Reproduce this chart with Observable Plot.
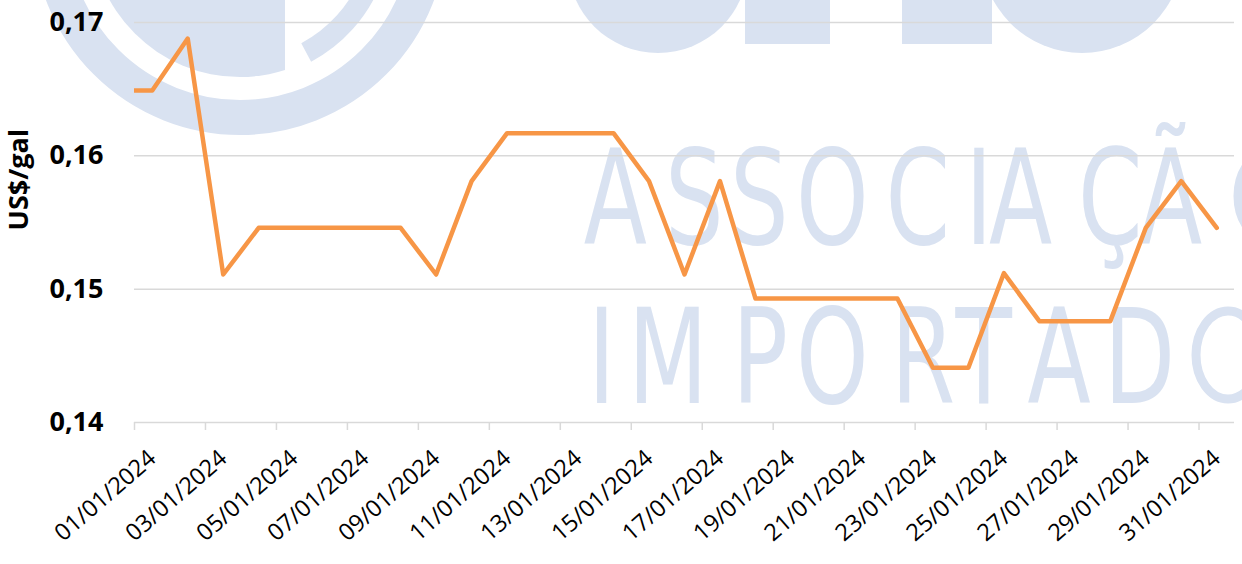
<!DOCTYPE html>
<html>
<head>
<meta charset="utf-8">
<script src="https://cdn.jsdelivr.net/npm/d3@7"></script>
<script src="https://cdn.jsdelivr.net/npm/@observablehq/plot@0.6"></script>
<style>
  html, body { margin: 0; padding: 0; background: #ffffff; }
  #wrap { position: relative; width: 1242px; height: 564px; overflow: hidden; background: #fff; }
  #wm { position: absolute; left: 0; top: 0; }
  #chart { position: absolute; left: 0; top: 0; }
</style>
</head>
<body>
<div id="wrap">
  <!-- decorative background watermark (not data) -->
  <svg id="wm" width="1242" height="564" xmlns="http://www.w3.org/2000/svg">
    <defs>
      <clipPath id="clipDisc"><rect x="0" y="-300" width="285" height="600"></rect></clipPath>
    </defs>
    <g fill="#d9e2f1" stroke="none">
      <circle cx="240" cy="-72" r="189.5" fill="none" stroke="#d9e2f1" stroke-width="35"></circle>
      <circle cx="240" cy="-72" r="149" clip-path="url(#clipDisc)"></circle>
      <path d="M370.7,-19.2 A141,141 0 0 1 306.2,52.5" fill="none" stroke="#d9e2f1" stroke-width="21"></path>
      <circle cx="658" cy="-37" r="90"></circle>
      <rect x="745" y="0" width="85" height="44"></rect>
      <rect x="902" y="0" width="90" height="44"></rect>
      <circle cx="1082" cy="-48" r="101"></circle>
      <g transform="translate(0,244) scale(0.7,1)">
        <text font-family="'DejaVu Sans', sans-serif" font-size="132"
          x="834 950 1043 1137 1265 1379 1413 1540 1627" y="0">ASSOCIAÇÃ</text>
      </g>
      <g transform="translate(0,403) scale(0.7,1)">
        <text font-family="'DejaVu Sans', sans-serif" font-size="132"
          x="840 897 1046 1137 1273 1365 1468 1577" y="0">IMPORTAD</text>
      </g>
      <ellipse cx="1270" cy="196" rx="32" ry="44" fill="none" stroke="#d9e2f1" stroke-width="9"></ellipse>
      <ellipse cx="1228" cy="355" rx="32" ry="44" fill="none" stroke="#d9e2f1" stroke-width="9"></ellipse>
    </g>
  </svg>
  <div id="chart"></div>
</div>
<script>
// ---- data ----
const dates = [
  "31/12/2023", "01/01/2024", "02/01/2024", "03/01/2024", "04/01/2024", "05/01/2024",
  "06/01/2024", "07/01/2024", "08/01/2024", "09/01/2024", "10/01/2024", "11/01/2024",
  "12/01/2024", "13/01/2024", "14/01/2024", "15/01/2024", "16/01/2024", "17/01/2024",
  "18/01/2024", "19/01/2024", "20/01/2024", "21/01/2024", "22/01/2024", "23/01/2024",
  "24/01/2024", "25/01/2024", "26/01/2024", "27/01/2024", "28/01/2024", "29/01/2024",
  "30/01/2024", "31/01/2024"
];
const values = [
  0.1649, 0.1649, 0.1688, 0.1511, 0.1546, 0.1546,
  0.1546, 0.1546, 0.1546, 0.1511, 0.1581, 0.1617,
  0.1617, 0.1617, 0.1617, 0.1581, 0.1511, 0.1581,
  0.1493, 0.1493, 0.1493, 0.1493, 0.1493, 0.1441,
  0.1441, 0.1512, 0.1476, 0.1476, 0.1476, 0.1546,
  0.1581, 0.1546
];
const yTicks = [0.14, 0.15, 0.16, 0.17];
const xTickLabels = [
  "01/01/2024", "03/01/2024", "05/01/2024", "07/01/2024", "09/01/2024", "11/01/2024",
  "13/01/2024", "15/01/2024", "17/01/2024", "19/01/2024", "21/01/2024", "23/01/2024",
  "25/01/2024", "27/01/2024", "29/01/2024", "31/01/2024"
];
const xDomainLabels = ["01/01/2024", "01/02/2024"];
const yLabel = "US$/gal";

// ---- build ----
const parse = d3.utcParse("%d/%m/%Y");
const HALF_DAY = 12 * 3600 * 1000; // category centred between day tick marks
const data = dates.map((d, i) => ({ date: new Date(+parse(d) + HALF_DAY), value: values[i] }));
const fmtY = d => d.toFixed(2).replace(".", ",");
const grid = "#d9d9d9";

const chart = Plot.plot({
  width: 1242,
  height: 564,
  marginLeft: 134,
  marginRight: 8,
  marginTop: 22,
  marginBottom: 142,
  style: { background: "transparent", fontFamily: "'Open Sans', sans-serif", overflow: "visible" },
  x: { type: "utc", domain: xDomainLabels.map(parse) },
  y: { domain: [yTicks[0], yTicks[yTicks.length - 1]] },
  marks: [
    Plot.ruleY(yTicks, { stroke: grid, strokeWidth: 1.5 }),
    Plot.axisX({ ticks: xTickLabels.map(parse), tickSize: 8, tickFormat: () => "", stroke: grid, strokeWidth: 1.5, label: null }),
    Plot.axisY({ ticks: yTicks, tickSize: 0, tickPadding: 31, tickFormat: fmtY, fontSize: 27, fontWeight: "bold", fill: "#000", label: null }),
    Plot.text(xTickLabels, {
      x: d => parse(d), text: d => d, frameAnchor: "bottom",
      textAnchor: "end", lineAnchor: "bottom", rotate: -41, dx: 23, dy: 38,
      fontSize: 23.5, fill: "#000"
    }),
    Plot.line(data, { x: "date", y: "value", stroke: "#f79646", strokeWidth: 4.5, clip: true }),
    Plot.text([yLabel], {
      text: d => d, frameAnchor: "left", rotate: -90, dx: -115, dy: 8,
      fontSize: 27, fontWeight: "bold", fill: "#000"
    })
  ]
});
document.getElementById("chart").appendChild(chart);
</script>
</body>
</html>
